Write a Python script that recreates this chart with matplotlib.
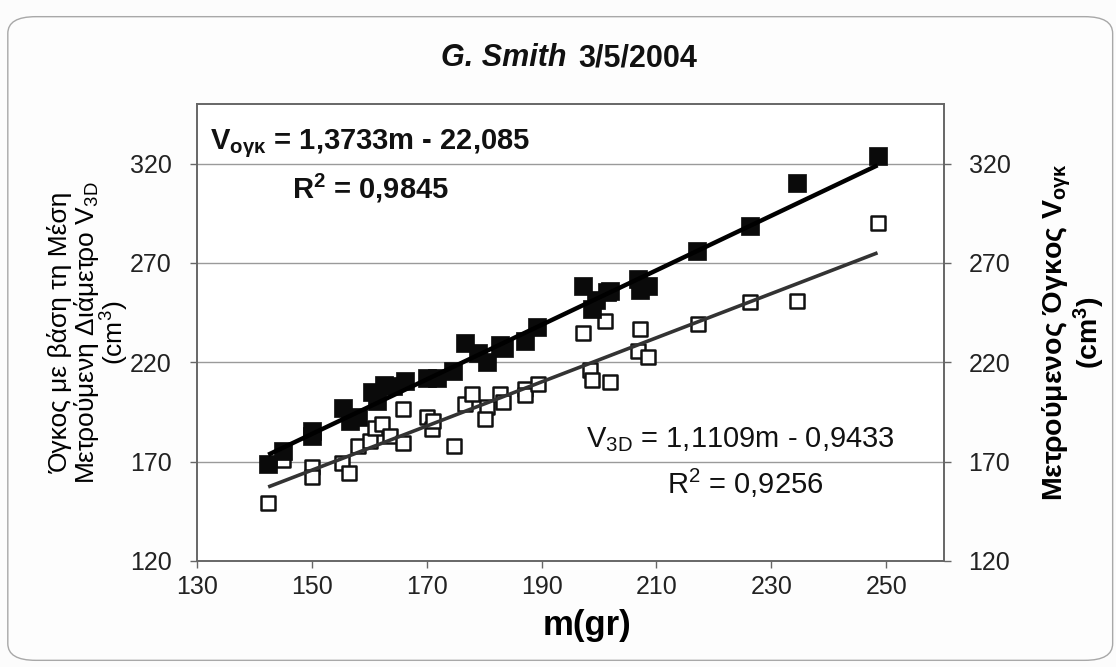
import matplotlib
matplotlib.use("Agg")
import matplotlib.pyplot as plt
from matplotlib.patches import FancyBboxPatch

plt.rcParams['font.family'] = ['Liberation Sans', 'DejaVu Sans']
plt.rcParams['mathtext.fontset'] = 'custom'
plt.rcParams['mathtext.rm'] = 'Liberation Sans'
plt.rcParams['mathtext.it'] = 'Liberation Sans:italic'
plt.rcParams['mathtext.bf'] = 'Liberation Sans:bold'

# Measured volume V_ογκ against mass m
m_meas = [142.4, 145.0, 150.0, 150.0, 155.5, 156.7, 158.1, 160.4, 161.3, 162.5,
          164.2, 166.2, 170.0, 171.8, 174.6, 176.7, 179.0, 180.5, 182.8, 183.5,
          187.1, 189.2, 197.2, 198.8, 199.5, 201.4, 202.0, 206.8, 207.2, 208.6,
          217.1, 226.3, 234.5, 248.5]
v_meas = [169.0, 175.5, 185.5, 183.0, 197.0, 190.5, 192.5, 205.0, 200.5, 208.5,
          208.0, 210.5, 212.0, 212.0, 215.5, 229.5, 224.5, 220.0, 228.5, 227.0,
          230.5, 238.0, 258.5, 247.0, 251.5, 255.5, 256.0, 262.0, 256.5, 258.5,
          276.0, 288.5, 310.5, 324.0]

# Volume from mean measured diameter V_3D against mass m
m_3d = [142.4, 145.0, 150.0, 150.0, 155.2, 156.4, 158.1, 160.1, 161.0, 162.2,
        163.6, 165.9, 165.9, 170.0, 170.9, 171.1, 174.7, 176.7, 177.9, 180.5,
        180.2, 182.8, 183.3, 187.1, 187.1, 189.4, 197.2, 198.5, 198.8, 201.1,
        202.0, 206.8, 207.2, 208.6, 217.2, 226.3, 234.5, 248.5]
v_3d = [149.0, 171.0, 167.5, 162.5, 169.5, 164.5, 178.0, 180.5, 187.0, 189.0,
        183.0, 196.5, 179.5, 192.5, 186.5, 190.5, 178.0, 199.0, 204.0, 197.5,
        191.5, 204.0, 200.0, 206.5, 203.5, 209.0, 234.5, 216.0, 211.0, 241.0,
        210.0, 225.5, 237.0, 222.5, 239.5, 250.5, 251.0, 290.0]

# Linear trendlines: slope, intercept, R^2
fit_meas = (1.3733, -22.085, 0.9845)
fit_3d = (1.1109, -0.9433, 0.9256)

x_ticks = [130, 150, 170, 190, 210, 230, 250]
y_ticks = [120, 170, 220, 270, 320]


def num(v):
    return f"{v:g}".replace('.', ',')


fig = plt.figure(figsize=(11.16, 6.67), dpi=100)
fig.patch.set_facecolor('#fcfcfc')
frame = FancyBboxPatch((0.007, 0.01), 0.99, 0.965,
                       boxstyle="round,pad=0,rounding_size=0.025",
                       transform=fig.transFigure, facecolor='#fdfdfd',
                       edgecolor='#a8a8a8', linewidth=1.0, zorder=-5)
fig.patches.append(frame)

ax = fig.add_axes([0.1765, 0.159, 0.669, 0.685])
ax.set_facecolor('white')
ax.set_xlim(130, 260)
ax.set_ylim(120, 350)
ax.set_xticks(x_ticks)
ax.set_yticks(y_ticks)
for yv in y_ticks[1:]:
    ax.axhline(yv, color='#9a9a9a', lw=1.0, zorder=0)

ax.scatter(m_3d, v_3d, marker='s', s=115, facecolor='white',
           edgecolor='#111111', linewidth=1.8, zorder=3)
ax.scatter(m_meas, v_meas, marker='s', s=150, facecolor='#0a0a0a',
           edgecolor='#0a0a0a', linewidth=0.5, zorder=4)

x0, x1 = min(m_3d), max(m_3d)
a, b, r2 = fit_3d
ax.plot([x0, x1], [a * x0 + b, a * x1 + b], color='#333333', lw=2.6,
        solid_capstyle='butt', zorder=5)
x0, x1 = min(m_meas), max(m_meas)
a, b, r2 = fit_meas
ax.plot([x0, x1], [a * x0 + b, a * x1 + b], color='#000000', lw=3.2,
        solid_capstyle='butt', zorder=6)

for side in ['left', 'right', 'top', 'bottom']:
    ax.spines[side].set_color('#666666')
    ax.spines[side].set_linewidth(1.4)

ax.tick_params(axis='both', direction='out', length=5, width=1.0,
               color='#666666', labelsize=18, labelcolor='#222222', pad=5)
ax.tick_params(axis='y', pad=13)
ax.set_xlabel('m(gr)', fontsize=25, fontweight='bold')
ax.xaxis.set_label_coords(0.523, -0.105)
ax.set_ylabel('Όγκος με βάση τη Μέση\nΜετρούμενη Διάμετρο V$_{\\mathregular{3D}}$\n(cm$^{\\mathregular{3}}$)',
              fontsize=19, labelpad=-1, linespacing=0.95)

ax2 = ax.twinx()
ax2.set_ylim(ax.get_ylim())
ax2.set_yticks(y_ticks)
ax2.tick_params(axis='y', direction='out', length=5, width=1.0,
                color='#666666', labelsize=18, labelcolor='#222222', pad=13)
for side in ['left', 'right', 'top', 'bottom']:
    ax2.spines[side].set_visible(False)
ax2.set_ylabel('Μετρούμενος Όγκος V$_{\\mathbf{ογκ}}$\n(cm$^{\\mathbf{3}}$)',
               fontsize=20.5, fontweight='bold', labelpad=22, linespacing=0.95)

a, b, r2 = fit_meas
sign = '-' if b < 0 else '+'
fig.text(0.188, 0.784,
         'V$_{\\mathbf{ογκ}}$ = ' + f'{num(a)}m {sign} {num(abs(b))}',
         fontsize=21, fontweight='bold', ha='left', va='center', color='#111111')
fig.text(0.332, 0.718, 'R$^{\\mathbf{2}}$ = ' + num(r2),
         fontsize=21, fontweight='bold', ha='center', va='center', color='#111111')

a, b, r2 = fit_3d
sign = '-' if b < 0 else '+'
fig.text(0.663, 0.341,
         'V$_{\\mathregular{3D}}$ = ' + f'{num(a)}m {sign} {num(abs(b))}',
         fontsize=21, ha='center', va='center', color='#111111')
fig.text(0.668, 0.276, 'R$^{\\mathregular{2}}$ = ' + num(r2),
         fontsize=21, ha='center', va='center', color='#111111')

fig.text(0.508, 0.913, 'G. Smith', fontsize=22, fontweight='bold',
         fontstyle='italic', ha='right', va='center', color='#111111')
fig.text(0.518, 0.913, '3/5/2004', fontsize=22, fontweight='bold',
         ha='left', va='center', color='#111111')

fig.savefig('out.png', dpi=100, facecolor=fig.get_facecolor())
